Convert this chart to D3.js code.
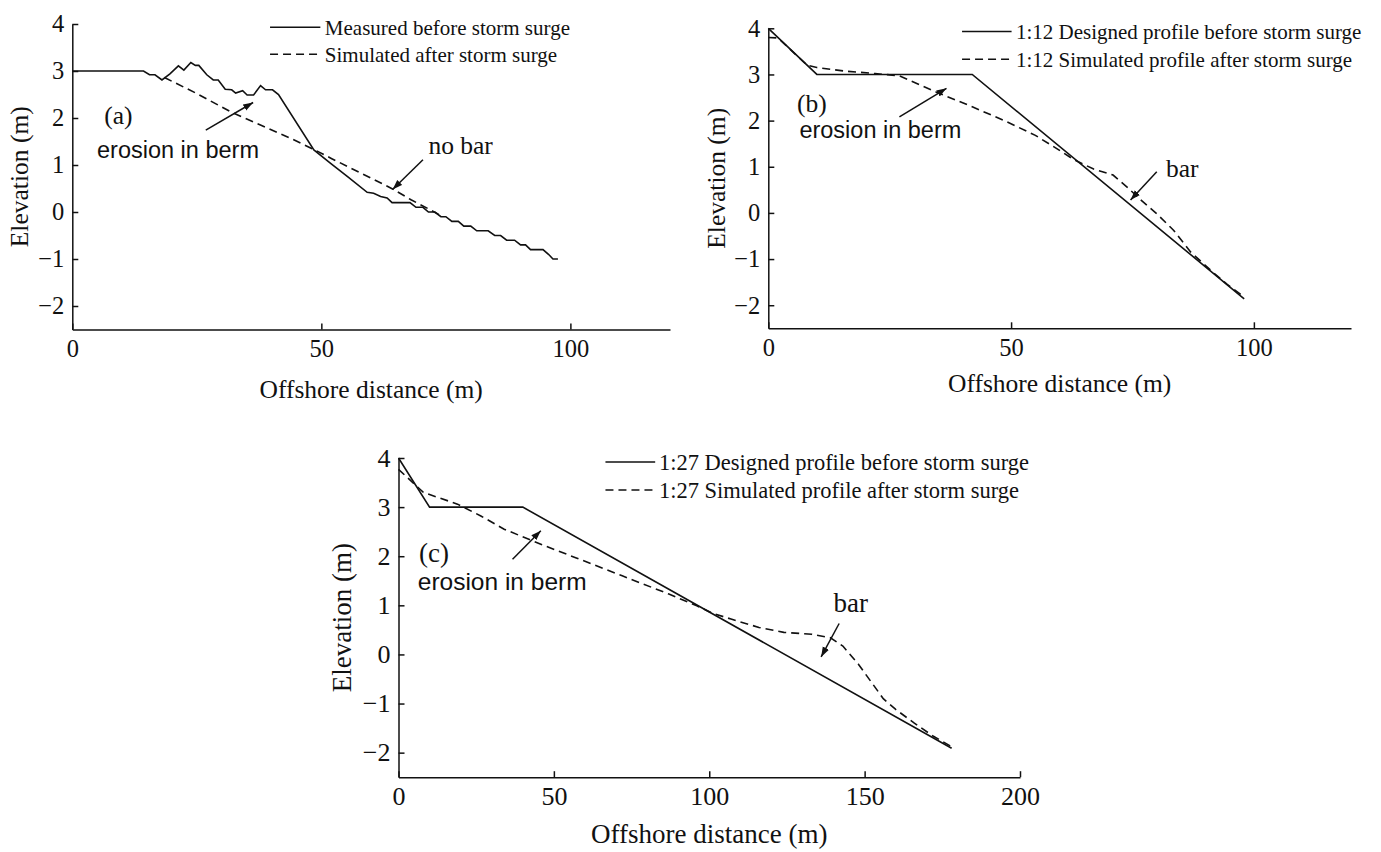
<!DOCTYPE html>
<html>
<head>
<meta charset="utf-8">
<script src="https://cdn.jsdelivr.net/npm/d3@7"></script>
<style>
body { margin: 0; background: #fff; }
svg text { font-family: "Liberation Serif", "Times New Roman", serif; fill: #111; }
svg text.sans { font-family: "Liberation Sans", Arial, sans-serif; }
</style>
</head>
<body>
<div id="chart"></div>
<script>
// tick values and text
var yTicks = [-2, -1, 0, 1, 2, 3, 4];
var xTicksAB = [0, 50, 100];
var xTicksC = [0, 50, 100, 150, 200];
var legendA = ['Measured before storm surge', 'Simulated after storm surge'];
var legendB = ['1:12 Designed profile before storm surge', '1:12 Simulated profile after storm surge'];
var legendC = ['1:27 Designed profile before storm surge', '1:27 Simulated profile after storm surge'];

// (a) measured / simulated profile
var measA_x = [0, 14.3, 15.5, 16.6, 18.0, 19.6, 21.3, 22.4, 23.8, 24.7, 25.4, 27.0, 28.3, 29.3, 30.7, 32.0, 32.8, 34.2, 35.1, 36.4, 37.8, 38.8, 40.2, 41.4, 48.5, 51.8, 55.2, 59.2, 60.5, 61.9, 63.2, 64.2, 67.8, 69.0, 70.4, 71.5, 72.8, 74.0, 75.0, 76.2, 77.5, 78.6, 80.0, 81.2, 83.5, 84.8, 86.0, 87.2, 88.8, 90.0, 91.0, 92.0, 94.5, 95.6, 96.5, 97.5];
var measA_y = [3.0, 3.0, 2.92, 2.92, 2.81, 2.94, 3.11, 3.02, 3.18, 3.12, 3.12, 2.92, 2.81, 2.81, 2.61, 2.60, 2.53, 2.58, 2.49, 2.49, 2.69, 2.60, 2.60, 2.50, 1.32, 1.04, 0.76, 0.42, 0.40, 0.33, 0.30, 0.20, 0.20, 0.10, 0.10, 0.0, 0.0, -0.1, -0.1, -0.2, -0.2, -0.3, -0.3, -0.4, -0.4, -0.5, -0.5, -0.6, -0.6, -0.7, -0.7, -0.8, -0.8, -0.9, -1.0, -1.0];
var simA_x = [18.5, 25, 32, 38, 44, 48.5, 52, 56, 60, 64.5, 68, 72, 74];
var simA_y = [2.86, 2.52, 2.12, 1.84, 1.56, 1.33, 1.14, 0.93, 0.72, 0.48, 0.26, 0.04, -0.08];

// (b) 1:12 profile
var desB_x = [0, 10, 42, 98];
var desB_y = [4.0, 3.0, 3.0, -1.86];
var simB_x = [0, 2, 8, 10, 16, 22, 27, 35, 42, 49, 55, 59, 63, 67, 71, 74, 76.5, 80, 83.5, 87, 91.5, 94.5, 98];
var simB_y = [3.8, 3.79, 3.2, 3.15, 3.07, 3.02, 2.97, 2.6, 2.3, 1.98, 1.68, 1.42, 1.15, 0.95, 0.82, 0.55, 0.3, -0.02, -0.38, -0.85, -1.28, -1.55, -1.82];

// (c) 1:27 profile
var desC_x = [0, 10, 40, 178];
var desC_y = [4.0, 3.0, 3.0, -1.91];
var simC_x = [0, 8, 19, 26.5, 34, 46, 57, 72, 87, 96, 101, 107, 116, 124, 133, 139, 143, 148, 152, 156, 160, 166, 172, 178];
var simC_y = [3.77, 3.3, 3.06, 2.82, 2.55, 2.24, 1.97, 1.6, 1.23, 0.99, 0.84, 0.72, 0.55, 0.45, 0.41, 0.34, 0.17, -0.2, -0.55, -0.9, -1.12, -1.4, -1.66, -1.88];

function zip(xs, ys) {
  return xs.map(function(v, i) { return [v, ys[i]]; });
}

var svg = d3.select('#chart').append('svg')
  .attr('width', 1381)
  .attr('height', 852);

svg.append('defs').append('marker')
  .attr('id', 'arrow')
  .attr('markerUnits', 'userSpaceOnUse')
  .attr('viewBox', '0 0 10 8')
  .attr('refX', 10).attr('refY', 4)
  .attr('markerWidth', 10).attr('markerHeight', 8)
  .attr('orient', 'auto')
  .append('path')
  .attr('d', 'M0,0.5L10,4L0,7.5Z')
  .attr('fill', '#111');

var panels = [
  {left: 72.3, right: 670, top: 24, bottom: 329.5, xMax: 120, xTicks: xTicksAB,
   tickFs: 24.5, titleFs: 25.5, legFs: 21, noteFs: 25.5, sansFs: 23.5, xPad: 10, yTitleX: -44, xTitleY: 68,
   legend: legendA, leg: [39.7, 49.8, 50.7, 3.93, 3.355],
   series: [[measA_x, measA_y, false], [simA_x, simA_y, true]],
   notes: [{t: '(a)', x: 6.4, y: 1.87}, {t: 'erosion in berm', x: 4.96, y: 1.15, sans: true}, {t: 'no bar', x: 71.5, y: 1.23}],
   arrows: [[26.8, 1.74, 36.3, 2.33], [70.4, 1.11, 64.3, 0.48]]},
  {left: 768.3, right: 1351, top: 28.3, bottom: 328.3, xMax: 120, xTicks: xTicksAB,
   tickFs: 24.5, titleFs: 25.5, legFs: 21, noteFs: 25.5, sansFs: 23.5, xPad: 10, yTitleX: -43, xTitleY: 64,
   legend: legendB, leg: [39.9, 50.1, 51.0, 3.93, 3.33],
   series: [[desB_x, desB_y, false], [simB_x, simB_y, true]],
   notes: [{t: '(b)', x: 5.9, y: 2.19}, {t: 'erosion in berm', x: 6.4, y: 1.62, sans: true}, {t: 'bar', x: 81.9, y: 0.78}],
   arrows: [[27.0, 2.08, 36.7, 2.70], [80.0, 0.89, 74.6, 0.28]]},
  {left: 398.5, right: 1020, top: 458, bottom: 777.2, xMax: 200, xTicks: xTicksC,
   tickFs: 26, titleFs: 27, legFs: 22.5, noteFs: 27, sansFs: 24.5, xPad: 9.5, yTitleX: -47.5, xTitleY: 66,
   legend: legendC, leg: [66.6, 82.6, 83.8, 3.92, 3.35],
   series: [[desC_x, desC_y, false], [simC_x, simC_y, true]],
   notes: [{t: '(c)', x: 6.6, y: 1.89}, {t: 'erosion in berm', x: 6.2, y: 1.31, sans: true}, {t: 'bar', x: 140, y: 0.87}],
   arrows: [[36.7, 1.94, 45.8, 2.52], [141.8, 0.63, 136, -0.05]]}
];

function drawPanel(p) {
  var x = d3.scaleLinear().domain([0, p.xMax]).range([p.left, p.right]);
  var y = d3.scaleLinear().domain([-2.5, 4]).range([p.bottom, p.top]);
  var g = svg.append('g');
  var fmt = d3.format('d');

  var gx = g.append('g')
    .attr('transform', 'translate(0,' + p.bottom + ')')
    .call(d3.axisBottom(x).tickValues(p.xTicks).tickFormat(fmt)
      .tickSizeInner(-6).tickSizeOuter(0).tickPadding(p.xPad));
  var gy = g.append('g')
    .attr('transform', 'translate(' + p.left + ',0)')
    .call(d3.axisLeft(y).tickValues(yTicks).tickFormat(fmt)
      .tickSizeInner(-6).tickSizeOuter(0).tickPadding(8));

  [gx, gy].forEach(function(a) {
    a.attr('font-family', null);
    a.selectAll('path, line').attr('stroke', '#111').attr('stroke-width', 1.5);
    a.selectAll('text').attr('font-size', p.tickFs).attr('fill', '#111');
  });

  g.append('text')
    .attr('x', (p.left + p.right) / 2)
    .attr('y', p.bottom + p.xTitleY)
    .attr('text-anchor', 'middle')
    .attr('font-size', p.titleFs)
    .text('Offshore distance (m)');

  g.append('text')
    .attr('transform', 'translate(' + (p.left + p.yTitleX) + ',' + ((p.top + p.bottom) / 2) + ') rotate(-90)')
    .attr('text-anchor', 'middle')
    .attr('font-size', p.titleFs)
    .text('Elevation (m)');

  var line = d3.line().x(function(d) { return x(d[0]); }).y(function(d) { return y(d[1]); });
  p.series.forEach(function(s) {
    g.append('path')
      .datum(zip(s[0], s[1]))
      .attr('d', line)
      .attr('fill', 'none')
      .attr('stroke', '#111')
      .attr('stroke-width', 1.6)
      .attr('stroke-dasharray', s[2] ? '8,5' : null);
  });

  // legend
  var lg = p.leg;
  [lg[3], lg[4]].forEach(function(ly, i) {
    g.append('line')
      .attr('x1', x(lg[0])).attr('x2', x(lg[1]))
      .attr('y1', y(ly)).attr('y2', y(ly))
      .attr('stroke', '#111').attr('stroke-width', 1.5)
      .attr('stroke-dasharray', i == 1 ? '8,5' : null);
    g.append('text')
      .attr('x', x(lg[2]))
      .attr('y', y(ly) + p.legFs * 0.37)
      .attr('font-size', p.legFs)
      .text(p.legend[i]);
  });

  p.notes.forEach(function(n) {
    g.append('text')
      .attr('class', n.sans ? 'sans' : null)
      .attr('x', x(n.x)).attr('y', y(n.y))
      .attr('font-size', n.sans ? p.sansFs : p.noteFs)
      .text(n.t);
  });

  p.arrows.forEach(function(a) {
    g.append('line')
      .attr('x1', x(a[0])).attr('y1', y(a[1]))
      .attr('x2', x(a[2])).attr('y2', y(a[3]))
      .attr('stroke', '#111').attr('stroke-width', 1.5)
      .attr('marker-end', 'url(#arrow)');
  });
}

panels.forEach(drawPanel);
</script>
</body>
</html>
